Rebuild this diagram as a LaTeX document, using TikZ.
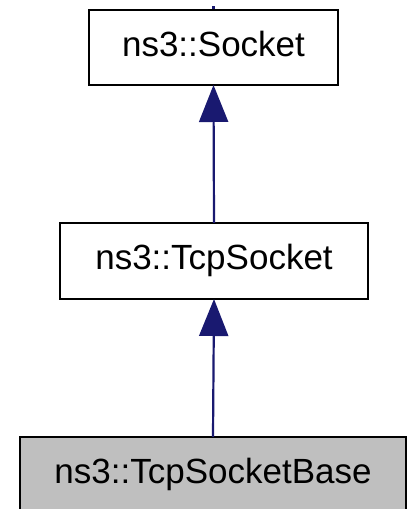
\documentclass[tikz,border=0pt]{standalone}
\usepackage{fontspec}
\setmainfont{Liberation Sans}
\usetikzlibrary{arrows.meta}
\definecolor{edgeblue}{RGB}{25,25,112}
\definecolor{basegray}{RGB}{191,191,191}
\tikzset{
  classbox/.style={draw=black, line width=2pt, fill=white, inner sep=0pt, outer sep=0pt,
    font=\fontsize{35}{40}\selectfont, text height=25pt, text depth=7pt},
  edge/.style={draw=edgeblue, line width=2.2pt, -{Triangle[length=37pt,width=29pt]}},
  stub/.style={draw=edgeblue, line width=2.2pt}
}
\begin{document}
\begin{tikzpicture}[x=1pt,y=1pt]
\useasboundingbox (0,0) rectangle (408,509);
\clip (0,0) rectangle (408,509);
\coordinate (up) at (213.5,503);
\draw[stub] (213.5,499) -- (up);
\node[classbox, minimum width=249pt, minimum height=75pt] (sock) at (213.5,461.5) {ns3::Socket};
\node[classbox, minimum width=308pt, minimum height=76pt] (tcp) at (214,248) {ns3::TcpSocket};
\node[classbox, fill=basegray, minimum width=386pt, minimum height=75pt] (base) at (213,34.5) {ns3::TcpSocketBase};
\draw[edge] (tcp.north) -- (sock.south);
\draw[edge] (base.north) -- (tcp.south);
\end{tikzpicture}
\end{document}
